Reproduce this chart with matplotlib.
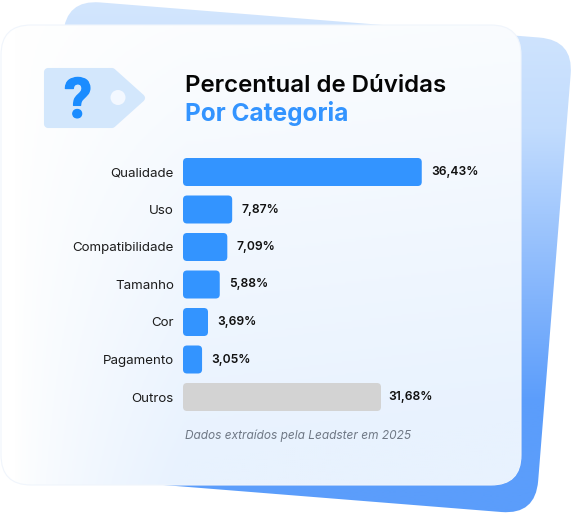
import numpy as np
import matplotlib
matplotlib.use('Agg')
import matplotlib.pyplot as plt
import matplotlib.patheffects as pe
from matplotlib.colors import LinearSegmentedColormap
from matplotlib.patches import FancyBboxPatch, Polygon, Circle
from matplotlib.transforms import Affine2D

W, H = 573, 516

categories = ['Qualidade', 'Uso', 'Compatibilidade', 'Tamanho', 'Cor', 'Pagamento', 'Outros']
value_labels = ['36,43%', '7,87%', '7,09%', '5,88%', '3,69%', '3,05%', '31,68%']
# drawn lengths as measured on the picture (the top bar and Cor are not to scale with their labels)
bar_lengths = [38.2, 7.87, 7.09, 5.88, 4.0, 3.05, 31.68]
bar_colors = ['#3394ff'] * 6 + ['#d3d3d3']

plt.rcParams['font.family'] = ['Inter', 'DejaVu Sans']

fig = plt.figure(figsize=(W / 100, H / 100), dpi=100, facecolor='white')

# background layer in pixel coordinates
bg = fig.add_axes([0, 0, 1, 1], zorder=0)
bg.set_xlim(0, W)
bg.set_ylim(H, 0)
bg.axis('off')

# tilted card behind
rot = Affine2D().rotate_deg_around(66, -0.3, 4.57)
back = FancyBboxPatch((66, -0.3), 509, 476, boxstyle='round,pad=0,rounding_size=34',
                      fc='none', ec='none', transform=rot + bg.transData)
bg.add_patch(back)
back_cmap = LinearSegmentedColormap.from_list('back', [(0, '#d3e6fd'), (0.25, '#c2dcfe'),
                                                       (0.58, '#82b4fc'), (0.78, '#5b9dfb'),
                                                       (1, '#5b9dfb')])
im = bg.imshow(np.linspace(0, 1, 256).reshape(-1, 1), cmap=back_cmap, extent=(0, W, H, 0), aspect='auto')
im.set_clip_path(back)

# front card
front = FancyBboxPatch((1, 25), 520, 460, boxstyle='round,pad=0,rounding_size=30',
                       fc='none', ec='none', transform=bg.transData)
bg.add_patch(front)
xx, yy = np.meshgrid(np.linspace(0, W, 287), np.linspace(0, H, 259))
fade = np.clip((xx - 15) / 170, 0, 1) ** 0.7 * (0.12 + 0.88 * np.clip((yy - 25) / 460, 0, 1))
fade = np.clip(fade + 0.12 * np.clip(xx / 520, 0, 1), 0, 1)
front_cmap = LinearSegmentedColormap.from_list('front', ['#ffffff', '#e8f2fe'])
im2 = bg.imshow(fade, cmap=front_cmap, vmin=0, vmax=1, extent=(0, W, H, 0), aspect='auto')
im2.set_clip_path(front)
bg.add_patch(FancyBboxPatch((1, 25), 520, 460, boxstyle='round,pad=0,rounding_size=30',
                            fc='none', ec='#f0f5fc', lw=0.8, transform=bg.transData))

# tag icon
bg.add_patch(Polygon([(48, 72), (112, 72), (141, 98), (112, 124), (48, 124)], closed=True,
                     fc='#d3e7fc', ec='#d3e7fc', lw=5.8, joinstyle='round'))
bg.add_patch(Circle((118, 97.5), 7.5, fc='#f3f8ff', ec='none'))
bg.text(78, 102.5, '?', color='#1a8cff', fontsize=40, fontweight='bold', ha='center', va='center',
        family=['Roboto', 'DejaVu Sans'],
        path_effects=[pe.withStroke(linewidth=1.0, foreground='#1a8cff')])

# titles and footnote
bg.text(185, 85.5, 'Percentual de Dúvidas', color='#050505', fontsize=17.3, fontweight='semibold',
        ha='left', va='center')
bg.text(185, 113.5, 'Por Categoria', color='#3394ff', fontsize=17.6, fontweight='bold',
        ha='left', va='center')
bg.text(185, 436, 'Dados extraídos pela Leadster em 2025', color='#6f7885', fontsize=8.55,
        style='italic', ha='left', va='center')

# chart axes: 6.25 px per percent, 37.5 px per row
px_x, px_y = 6.25, 37.5
x_left, x_right = 183, 520
y_top, y_bottom = 153.25, 415.75
ax = fig.add_axes([x_left / W, 1 - y_bottom / H, (x_right - x_left) / W, (y_bottom - y_top) / H],
                  zorder=1)
ax.patch.set_alpha(0)
ax.set_xlim(0, (x_right - x_left) / px_x)
ax.set_ylim(len(categories) - 0.5, -0.5)
for s in ax.spines.values():
    s.set_visible(False)
ax.xaxis.set_visible(False)
ax.set_yticks(range(len(categories)))
ax.set_yticklabels(categories, fontsize=9.6, color='#1c1c1c')
ax.tick_params(axis='y', length=0, pad=6.5)

bar_h = 28 / px_y
for i, (length, color, label) in enumerate(zip(bar_lengths, bar_colors, value_labels)):
    ax.add_patch(FancyBboxPatch((0, i - bar_h / 2), length, bar_h,
                                boxstyle='round,pad=0,rounding_size=0.65',
                                mutation_aspect=px_x / px_y, fc=color, ec='none'))
    # the grey bar sits a little closer to its label
    gap = 5.0 if color == '#d3d3d3' else 6.6
    ax.annotate(label, (length, i), xytext=(gap, 0), textcoords='offset points',
                ha='left', va='center', fontsize=8.75, fontweight='semibold', color='#111111')

fig.savefig('out.png', dpi=100, facecolor='white')
